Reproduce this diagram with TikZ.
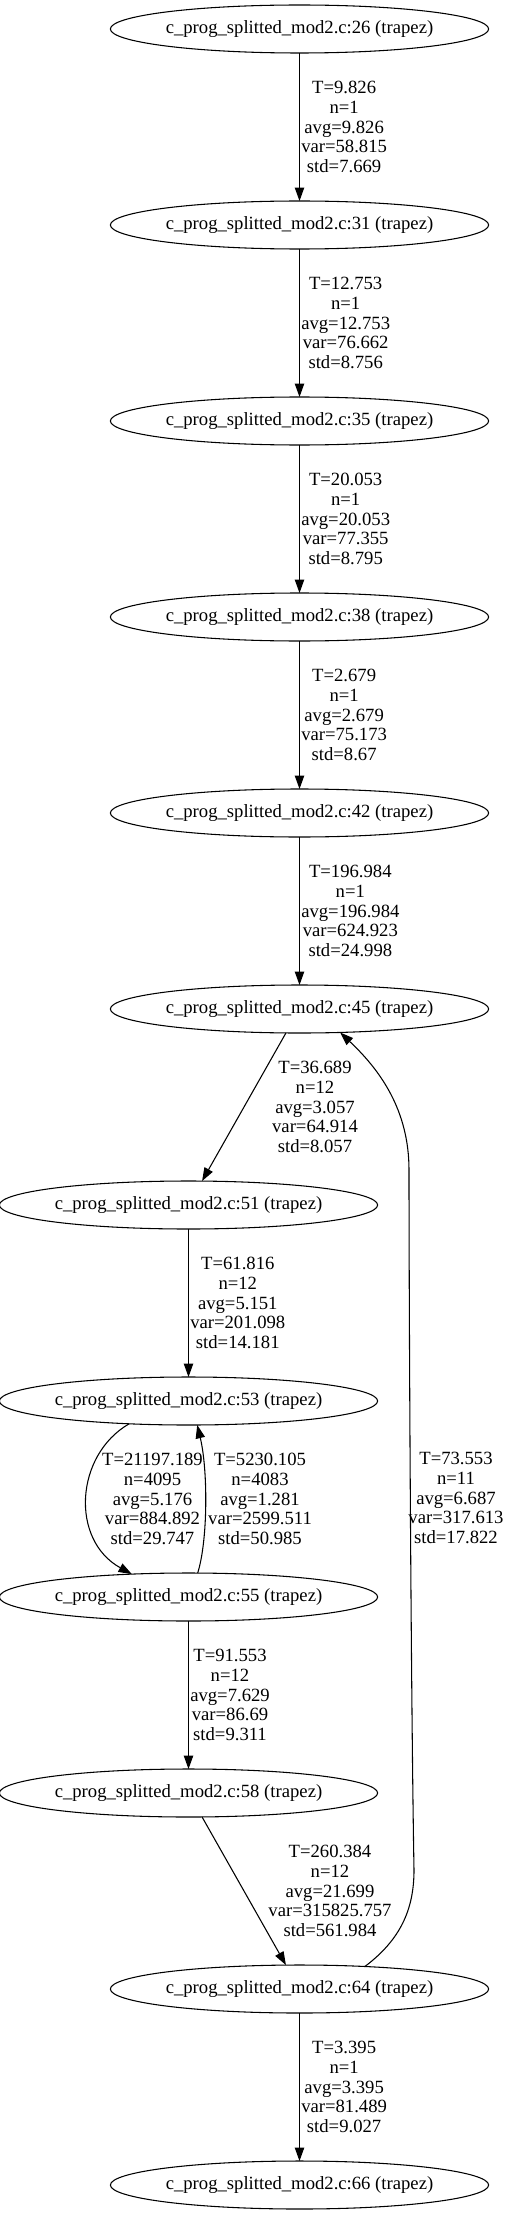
\documentclass[tikz,border=0pt]{standalone}
\usepackage{fontspec}
\setmainfont{Liberation Serif}
\usetikzlibrary{arrows.meta,shapes.geometric}
\tikzset{
  gnode/.style={draw, ellipse, line width=0.8pt, minimum width=275.25pt, minimum height=36pt, inner sep=0pt, outer sep=0pt, font=\fontsize{14}{15}\selectfont},
  elbl/.style={align=center, inner sep=0pt, font=\fontsize{14}{14.9}\selectfont},
  conn/.style={line width=0.8pt, -{Triangle[length=10pt,width=7pt]}}
}
\begin{document}
\begin{tikzpicture}[x=0.75pt,y=-0.75pt]
\useasboundingbox (0,0) rectangle (509,2215);
% nodes
\node[gnode] (n26) at (299.5,29) {c\_prog\_splitted\_mod2.c:26 (trapez)};
\node[gnode] (n31) at (299.5,225) {c\_prog\_splitted\_mod2.c:31 (trapez)};
\node[gnode] (n35) at (299.5,421) {c\_prog\_splitted\_mod2.c:35 (trapez)};
\node[gnode] (n38) at (299.5,617) {c\_prog\_splitted\_mod2.c:38 (trapez)};
\node[gnode] (n42) at (299.5,813) {c\_prog\_splitted\_mod2.c:42 (trapez)};
\node[gnode] (n45) at (299.5,1009) {c\_prog\_splitted\_mod2.c:45 (trapez)};
\node[gnode] (n51) at (188.5,1205) {c\_prog\_splitted\_mod2.c:51 (trapez)};
\node[gnode] (n53) at (188.5,1401) {c\_prog\_splitted\_mod2.c:53 (trapez)};
\node[gnode] (n55) at (188.5,1597) {c\_prog\_splitted\_mod2.c:55 (trapez)};
\node[gnode] (n58) at (188.5,1793) {c\_prog\_splitted\_mod2.c:58 (trapez)};
\node[gnode] (n64) at (299.5,1989) {c\_prog\_splitted\_mod2.c:64 (trapez)};
\node[gnode] (n66) at (299.5,2185) {c\_prog\_splitted\_mod2.c:66 (trapez)};
% edges
\draw[conn] (n26) -- (n31);
\draw[conn] (n31) -- (n35);
\draw[conn] (n35) -- (n38);
\draw[conn] (n38) -- (n42);
\draw[conn] (n42) -- (n45);
\draw[conn] (n45) -- (n51);
\draw[conn] (n51) -- (n53);
\draw[conn] (n53.-159) .. controls (75,1455) and (70,1540) .. (n55.158.5);
\draw[conn] (n55.69.4) .. controls (208,1540) and (208,1470) .. (n53.-70.5);
\draw[conn] (n55) -- (n58);
\draw[conn] (n58) -- (n64);
\draw[conn] (n64.19.5) .. controls (400,1940) and (414,1910) .. (414,1870)
   .. controls (411,1700) and (409,1300) .. (409,1170)
   .. controls (409,1110) and (380,1070) .. (n45.-30);
\draw[conn] (n64) -- (n66);
% labels
\node[elbl, anchor=west] (e1) at (301,127) {T=9.826\\n=1\\avg=9.826\\var=58.815\\std=7.669};
\node[elbl, anchor=west] (e2) at (301,323) {T=12.753\\n=1\\avg=12.753\\var=76.662\\std=8.756};
\node[elbl, anchor=west] (e3) at (301,519) {T=20.053\\n=1\\avg=20.053\\var=77.355\\std=8.795};
\node[elbl, anchor=west] (e4) at (301,715) {T=2.679\\n=1\\avg=2.679\\var=75.173\\std=8.67};
\node[elbl, anchor=west] (e5) at (301,911) {T=196.984\\n=1\\avg=196.984\\var=624.923\\std=24.998};
\node[elbl] (e6) at (315,1107) {T=36.689\\n=12\\avg=3.057\\var=64.914\\std=8.057};
\node[elbl, anchor=west] (e7) at (190,1303) {T=61.816\\n=12\\avg=5.151\\var=201.098\\std=14.181};
\node[elbl] (e8) at (152.5,1499) {T=21197.189\\n=4095\\avg=5.176\\var=884.892\\std=29.747};
\node[elbl] (e9) at (260,1499) {T=5230.105\\n=4083\\avg=1.281\\var=2599.511\\std=50.985};
\node[elbl, anchor=west] (e10) at (190,1695) {T=91.553\\n=12\\avg=7.629\\var=86.69\\std=9.311};
\node[elbl] (e11) at (330,1891) {T=260.384\\n=12\\avg=21.699\\var=315825.757\\std=561.984};
\node[elbl] (e12) at (456,1498) {T=73.553\\n=11\\avg=6.687\\var=317.613\\std=17.822};
\node[elbl, anchor=west] (e13) at (301,2087) {T=3.395\\n=1\\avg=3.395\\var=81.489\\std=9.027};
\end{tikzpicture}
\end{document}
